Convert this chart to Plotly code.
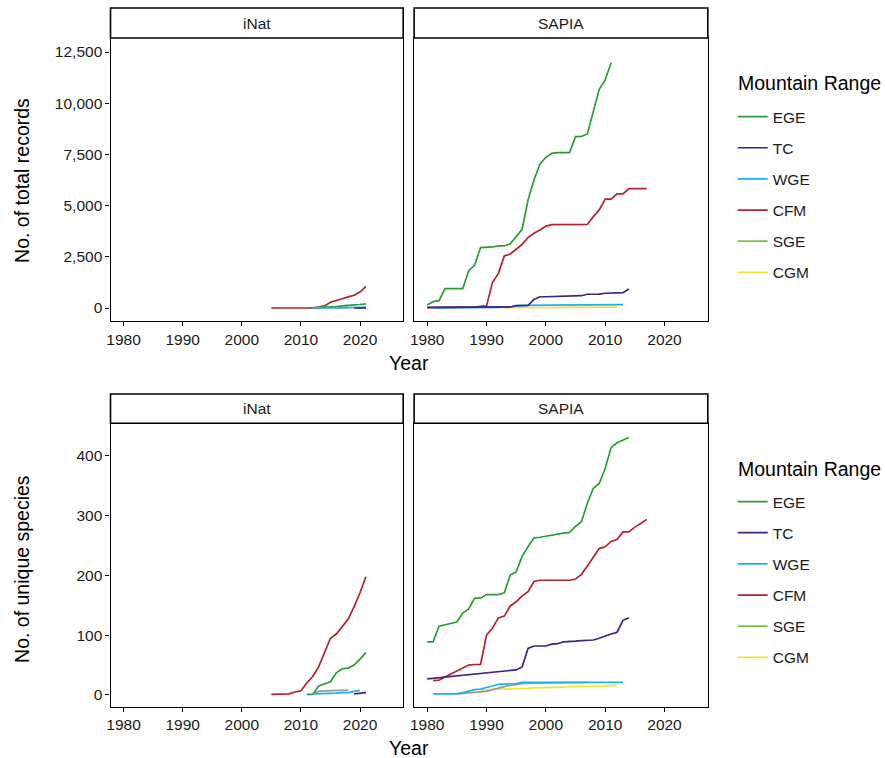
import plotly.graph_objects as go

W, H = 885, 758

# ---------------- data: total records ----------------
tot_inat_CFM_years = list(range(2005, 2022))
tot_inat_CFM = [0, 0, 0, 0, 0, 0, 5, 10, 40, 100, 280, 380, 450, 540, 620, 780, 1050]
tot_inat_EGE_years = list(range(2011, 2022))
tot_inat_EGE = [0, 10, 20, 30, 50, 70, 100, 140, 150, 170, 200]
tot_inat_WGE_years = list(range(2012, 2022))
tot_inat_WGE = [5, 5, 10, 10, 15, 15, 20, 20, 25, 30]
tot_inat_TC_years = [2019, 2020, 2021]
tot_inat_TC = [0, 2, 5]
tot_inat_NA_years = list(range(2012, 2019))
tot_inat_NA = [5, 8, 10, 10, 12, 12, 15]

tot_sapia_EGE_years = list(range(1980, 2012))
tot_sapia_EGE = [146, 310, 360, 945, 945, 945, 945, 1820, 2100, 2950,
                 2950, 2980, 3030, 3030, 3140, 3520, 3840, 5270, 6250, 7020,
                 7360, 7550, 7590, 7590, 7590, 8370, 8380, 8500, 9590, 10680,
                 11140, 11980]
tot_sapia_CFM_years = list(range(1980, 2018))
tot_sapia_CFM = [20, 20, 20, 20, 25, 25, 30, 30, 40, 80,
                 100, 1240, 1690, 2540, 2640, 2870, 3110, 3440, 3650, 3810,
                 4000, 4070, 4070, 4070, 4070, 4070, 4070, 4080, 4460, 4790,
                 5320, 5320, 5570, 5570, 5830, 5830, 5830, 5830]
tot_sapia_TC_years = list(range(1980, 2015))
tot_sapia_TC = [30, 30, 30, 30, 30, 30, 30, 35, 35, 40,
                40, 40, 45, 45, 50, 100, 110, 130, 420, 550,
                550, 560, 560, 560, 570, 590, 600, 670, 670, 680,
                720, 730, 750, 750, 930]
tot_sapia_WGE_years = list(range(1981, 2014))
tot_sapia_WGE = [0, 0, 0, 5, 5, 10, 10, 15, 20, 20, 25, 30, 40, 50,
                 130, 130, 140, 140, 140, 145, 145, 150, 150, 150, 150, 150,
                 155, 155, 155, 160, 160, 160, 160]
tot_sapia_CGM_years = list(range(1993, 2013))
tot_sapia_CGM = [10, 15, 15, 20, 20, 20, 25, 25, 25, 30,
                 30, 30, 30, 35, 35, 35, 35, 40, 40, 40]

# ---------------- data: unique species ----------------
sp_inat_CFM_years = list(range(2005, 2022))
sp_inat_CFM = [1, 1, 1, 2, 5, 7, 20, 31, 47, 70, 95, 102, 114, 127, 148, 171, 198]
sp_inat_EGE_years = list(range(2011, 2022))
sp_inat_EGE = [1, 1, 15, 18, 22, 37, 44, 45, 50, 60, 71]
sp_inat_WGE_years = list(range(2012, 2021))
sp_inat_WGE = [2, 2, 3, 3, 3, 4, 4, 6, 8]
sp_inat_NA_years = list(range(2012, 2019))
sp_inat_NA = [3, 6, 7, 7, 8, 8, 8]
sp_inat_TC_years = [2019, 2020, 2021]
sp_inat_TC = [2, 3, 4]

sp_sapia_EGE_years = list(range(1980, 2015))
sp_sapia_EGE = [89, 89, 115, 117, 119, 122, 137, 144, 162, 162,
                168, 168, 168, 171, 201, 206, 232, 248, 263, 264,
                266, 268, 269, 271, 272, 282, 290, 321, 346, 354,
                379, 414, 422, 427, 431]
sp_sapia_CFM_years = list(range(1981, 2018))
sp_sapia_CFM = [24, 25, 30, 35, 41, 46, 50, 51, 51,
                100, 112, 129, 132, 149, 156, 166, 173, 190, 192,
                192, 192, 192, 192, 192, 194, 202, 216, 230, 245,
                248, 257, 260, 273, 273, 281, 287, 294]
sp_sapia_TC_years = list(range(1980, 2015))
sp_sapia_TC = [27, 28, 29, 30, 31, 32, 33, 34, 35, 36,
               37, 38, 39, 40, 41, 42, 47, 78, 82, 82,
               82, 85, 86, 89, 89, 90, 91, 92, 92, 95,
               99, 102, 105, 125, 129]
sp_sapia_WGE_years = list(range(1981, 2014))
sp_sapia_WGE = [2, 2, 2, 2, 2, 4, 7, 9, 10, 12,
                15, 18, 18, 18, 19, 21, 21, 21, 21, 21,
                21, 21, 21, 21, 21, 21, 21, 21, 21, 21,
                21, 21, 21]
sp_sapia_NA_years = list(range(1985, 2008))
sp_sapia_NA = [2, 3, 4, 5, 5, 6, 9, 12, 14, 16, 18, 19, 20, 20, 20, 20,
               21, 21, 21, 21, 21, 21, 21]
sp_sapia_CGM_years = list(range(1989, 2013))
sp_sapia_CGM = [8, 9, 9, 10, 10, 10, 11, 11, 11, 12, 12, 12,
                13, 13, 13, 14, 14, 14, 14, 15, 15, 15, 16, 16]

ranges = ["EGE", "TC", "WGE", "CFM", "SGE", "CGM"]
colors = {"EGE": "#2A9D3A", "TC": "#3F2283", "WGE": "#1BB0EA",
          "CFM": "#B5222B", "SGE": "#7CC242", "CGM": "#F0E22E", "NA": "#9A9A9A"}
x_ticks = [1980, 1990, 2000, 2010, 2020]

FONT = "Liberation Sans, Arial, sans-serif"
TXT = "#1a1a1a"

fig = go.Figure()

def line(x, y, name, xa, ya, legend):
    fig.add_trace(go.Scatter(
        x=x, y=y, mode="lines", name=name,
        line=dict(color=colors[name], width=1.7),
        xaxis=xa, yaxis=ya, legend=legend,
        legendgroup=legend + name, showlegend=False, hoverinfo="skip"))

# top panels
line(tot_inat_NA_years, tot_inat_NA, "NA", "x", "y", "legend")
line(tot_inat_CFM_years, tot_inat_CFM, "CFM", "x", "y", "legend")
line(tot_inat_EGE_years, tot_inat_EGE, "EGE", "x", "y", "legend")
line(tot_inat_WGE_years, tot_inat_WGE, "WGE", "x", "y", "legend")
line(tot_inat_TC_years, tot_inat_TC, "TC", "x", "y", "legend")

line(tot_sapia_EGE_years, tot_sapia_EGE, "EGE", "x2", "y2", "legend")
line(tot_sapia_CFM_years, tot_sapia_CFM, "CFM", "x2", "y2", "legend")
line(tot_sapia_CGM_years, tot_sapia_CGM, "CGM", "x2", "y2", "legend")
line(tot_sapia_WGE_years, tot_sapia_WGE, "WGE", "x2", "y2", "legend")
line(tot_sapia_TC_years, tot_sapia_TC, "TC", "x2", "y2", "legend")

# bottom panels
line(sp_inat_NA_years, sp_inat_NA, "NA", "x3", "y3", "legend2")
line(sp_inat_CFM_years, sp_inat_CFM, "CFM", "x3", "y3", "legend2")
line(sp_inat_EGE_years, sp_inat_EGE, "EGE", "x3", "y3", "legend2")
line(sp_inat_WGE_years, sp_inat_WGE, "WGE", "x3", "y3", "legend2")
line(sp_inat_TC_years, sp_inat_TC, "TC", "x3", "y3", "legend2")

line(sp_sapia_EGE_years, sp_sapia_EGE, "EGE", "x4", "y4", "legend2")
line(sp_sapia_CFM_years, sp_sapia_CFM, "CFM", "x4", "y4", "legend2")
line(sp_sapia_CGM_years, sp_sapia_CGM, "CGM", "x4", "y4", "legend2")
line(sp_sapia_NA_years, sp_sapia_NA, "NA", "x4", "y4", "legend2")
line(sp_sapia_WGE_years, sp_sapia_WGE, "WGE", "x4", "y4", "legend2")
line(sp_sapia_TC_years, sp_sapia_TC, "TC", "x4", "y4", "legend2")

# legend entries
for lg, xa, ya in (("legend", "x", "y"), ("legend2", "x3", "y3")):
    for r in ranges:
        fig.add_trace(go.Scatter(
            x=[None], y=[None], mode="lines", name=r,
            line=dict(color=colors[r], width=1.7),
            xaxis=xa, yaxis=ya,
            legend=lg, legendgroup=lg + r, showlegend=True))

def px_x(p):
    return p / W

def px_y(p):
    return 1 - p / H

L1, R1 = 107, 401
L2, R2 = 412, 707
top_strip = (8, 38)
top_plot = (38, 321)
bot_strip = (394, 423.3)
bot_plot = (423.3, 706.7)

xr = [1977.8, 2027.3]
ax_common = dict(showline=True, linecolor="black", linewidth=1.3, mirror=True,
                 showgrid=False, zeroline=False, ticks="outside", ticklen=4,
                 tickcolor="black", tickwidth=1.1,
                 tickfont=dict(family=FONT, size=15.5, color=TXT))

def xaxis(l, r, anchor):
    d = dict(ax_common)
    d.update(domain=[px_x(l), px_x(r)], range=xr, tickvals=x_ticks, anchor=anchor)
    return d

def yaxis(top_px, bottom_px, rng, tv, labels, anchor):
    d = dict(ax_common)
    d.update(domain=[px_y(bottom_px), px_y(top_px)], range=rng, tickvals=tv, anchor=anchor)
    if labels:
        d.update(tickformat=",")
    else:
        d.update(showticklabels=False, ticks="")
    return d

top_rng = [-635, 13184]
top_ticks = [0, 2500, 5000, 7500, 10000, 12500]
bot_rng = [-19.6, 454.7]
bot_ticks = [0, 100, 200, 300, 400]

fig.update_layout(
    xaxis=xaxis(L1, R1, "y"),
    xaxis2=xaxis(L2, R2, "y2"),
    xaxis3=xaxis(L1, R1, "y3"),
    xaxis4=xaxis(L2, R2, "y4"),
    yaxis=yaxis(top_plot[0], top_plot[1], top_rng, top_ticks, True, "x"),
    yaxis2=yaxis(top_plot[0], top_plot[1], top_rng, top_ticks, False, "x2"),
    yaxis3=yaxis(bot_plot[0], bot_plot[1], bot_rng, bot_ticks, True, "x3"),
    yaxis4=yaxis(bot_plot[0], bot_plot[1], bot_rng, bot_ticks, False, "x4"),
)

shapes = []
annotations = []
for (s0, s1) in (top_strip, bot_strip):
    for (l, r, lab) in ((L1, R1, "iNat"), (L2, R2, "SAPIA")):
        shapes.append(dict(type="rect", xref="paper", yref="paper",
                           x0=px_x(l), x1=px_x(r), y0=px_y(s1), y1=px_y(s0),
                           line=dict(color="black", width=1.6), fillcolor="white"))
        annotations.append(dict(xref="paper", yref="paper", x=px_x((l + r) / 2),
                                y=px_y((s0 + s1) / 2), text=lab, showarrow=False,
                                font=dict(family=FONT, size=15.5, color=TXT),
                                xanchor="center", yanchor="middle"))

title_font = dict(family=FONT, size=19.5, color="black")
annotations += [
    dict(xref="paper", yref="paper", x=px_x(18), y=px_y(180), text="No. of total records",
         textangle=-90, showarrow=False, font=title_font, xanchor="center", yanchor="middle"),
    dict(xref="paper", yref="paper", x=px_x(18), y=px_y(569), text="No. of unique species",
         textangle=-90, showarrow=False, font=title_font, xanchor="center", yanchor="middle"),
    dict(xref="paper", yref="paper", x=px_x(407), y=px_y(363), text="Year",
         showarrow=False, font=title_font, xanchor="center", yanchor="middle"),
    dict(xref="paper", yref="paper", x=px_x(407), y=px_y(748), text="Year",
         showarrow=False, font=title_font, xanchor="center", yanchor="middle"),
    dict(xref="paper", yref="paper", x=px_x(735), y=px_y(83), text="Mountain Range",
         showarrow=False, font=title_font, xanchor="left", yanchor="middle"),
    dict(xref="paper", yref="paper", x=px_x(735), y=px_y(469), text="Mountain Range",
         showarrow=False, font=title_font, xanchor="left", yanchor="middle"),
]

leg_common = dict(xanchor="left", yanchor="top", bgcolor="rgba(0,0,0,0)",
                  font=dict(family=FONT, size=15.5, color=TXT),
                  tracegroupgap=8, itemclick=False, itemdoubleclick=False,
                  traceorder="grouped")
leg1 = dict(leg_common); leg1.update(x=px_x(732), y=px_y(100))
leg2 = dict(leg_common); leg2.update(x=px_x(732), y=px_y(485))

fig.update_layout(
    width=W, height=H, margin=dict(l=0, r=0, t=0, b=0),
    paper_bgcolor="white", plot_bgcolor="white",
    shapes=shapes, annotations=annotations,
    legend=leg1, legend2=leg2,
    font=dict(family=FONT),
)

fig.write_html("out.html", config={"displayModeBar": False},
               post_script="document.body.style.margin='0';")
